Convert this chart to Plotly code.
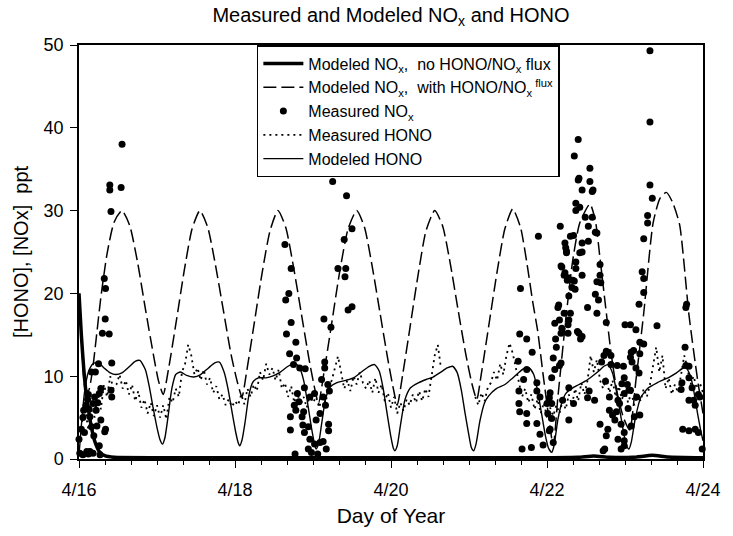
import plotly.graph_objects as go

# ---------------- data ----------------
# Modeled NOx, no HONO/NOx flux (thick line)
noflux_day = [16.0, 16.03, 16.06, 16.09, 16.12, 16.16, 16.2, 16.26, 16.33, 16.45, 17.0, 18.0, 19.0,
              20.0, 21.0, 22.0, 22.4, 22.6, 22.8, 23.1, 23.35, 23.55, 24.0]
noflux_val = [20, 15, 11, 8, 6, 3.8, 2.2, 0.9, 0.4, 0.2, 0.15, 0.15, 0.15,
              0.15, 0.15, 0.15, 0.2, 0.35, 0.2, 0.2, 0.45, 0.25, 0.15]

# Modeled NOx, with HONO/NOx flux (dashed)
flux_day = [16.00, 16.04, 16.08, 16.12, 16.17, 16.22, 16.28, 16.36, 16.45, 16.55, 16.65, 16.75, 16.85, 16.95,
            17.02, 17.08, 17.15, 17.25, 17.35, 17.45, 17.55, 17.65, 17.75, 17.85, 17.95,
            18.03, 18.09, 18.15, 18.25, 18.35, 18.45, 18.55, 18.65, 18.75, 18.85, 18.95,
            19.02, 19.07, 19.14, 19.24, 19.34, 19.45, 19.56, 19.66, 19.76, 19.86, 19.96,
            20.03, 20.08, 20.15, 20.25, 20.35, 20.45, 20.56, 20.66, 20.76, 20.86, 20.96,
            21.04, 21.10, 21.16, 21.26, 21.36, 21.46, 21.56, 21.66, 21.74, 21.82, 21.88, 21.95,
            22.02, 22.08, 22.14, 22.24, 22.33, 22.42, 22.55, 22.62, 22.68, 22.75, 22.82, 22.90, 22.98,
            23.06, 23.14, 23.24, 23.36, 23.45, 23.53, 23.61, 23.70, 23.82, 23.93, 24.00]
flux_val = [20, 13, 8.5, 8.2, 10.5, 14.5, 19.5, 24.8, 28.6, 30, 28.2, 23.8, 18.2, 12.8,
            9.4, 7.8, 11, 16.8, 22.8, 27.8, 30, 28, 23.4, 18, 12.6,
            9.3, 7.5, 10.6, 16.6, 22.6, 27.6, 30, 28, 23.2, 17.6, 12,
            8.6, 6.7, 10.4, 16.4, 22.5, 27.8, 30, 28, 23.2, 17.6, 12,
            8.5, 6.5, 10.2, 16.3, 22.4, 27.6, 30, 28.2, 23.6, 18, 12.6,
            9, 7.2, 10.4, 16.5, 22.6, 27.8, 30.2, 28, 23.8, 18.8, 15.5, 10.2,
            5.2, 1.6, 7.5, 16.8, 24, 28.5, 30.8, 28.8, 24.2, 18.5, 12.9, 8, 5,
            3.5, 9.5, 17.6, 28.5, 31.5, 32.2, 31, 28.3, 17.4, 9.6, 5.5]

# Modeled HONO (thin solid)
mhono_day = [16.00, 16.03, 16.07, 16.12, 16.18, 16.24, 16.32, 16.40, 16.47, 16.55, 16.65, 16.72, 16.78,
             16.85, 16.90, 16.95, 17.00, 17.04, 17.07, 17.10, 17.14, 17.19, 17.24, 17.30, 17.38, 17.47,
             17.56, 17.66, 17.74, 17.80, 17.86, 17.91, 17.96, 18.01, 18.04, 18.06, 18.09, 18.13, 18.18,
             18.23, 18.30, 18.40, 18.48, 18.58, 18.68, 18.76, 18.82, 18.88, 18.93, 18.98, 19.02, 19.04,
             19.07, 19.11, 19.16, 19.22, 19.30, 19.42, 19.52, 19.62, 19.72, 19.79, 19.85, 19.90, 19.95,
             20.00, 20.03, 20.05, 20.08, 20.12, 20.18, 20.25, 20.35, 20.45, 20.54, 20.64, 20.72, 20.79,
             20.85, 20.90, 20.95, 21.00, 21.03, 21.06, 21.09, 21.14, 21.20, 21.25, 21.35, 21.46, 21.55,
             21.62, 21.70, 21.77, 21.83, 21.88, 21.93, 21.98, 22.02, 22.06, 22.09, 22.14, 22.19, 22.24,
             22.35, 22.49, 22.58, 22.66, 22.73, 22.78, 22.84, 22.89, 22.94, 22.99, 23.02, 23.05, 23.08,
             23.13, 23.20, 23.30, 23.41, 23.57, 23.66, 23.73, 23.78, 23.84, 23.89, 23.93, 23.97, 24.00]
mhono_val = [0.5, 4, 8, 10.5, 11.5, 11.7, 11, 10.4, 10.2, 10.4, 11.2, 11.8, 11.9,
             10.8, 8.8, 6.2, 3.8, 2.3, 1.8, 2.5, 5, 8.5, 10.2, 10.5, 10.1, 9.9,
             10.2, 11, 11.6, 11.7, 10.5, 8.5, 5.8, 3.2, 2.0, 1.6, 2.3, 4.5, 7.8,
             9.3, 9.8, 9.8, 10, 10.5, 11.2, 11.5, 11.2, 9.5, 6.8, 3.8, 1.8, 1.2,
             1.8, 4.2, 7.2, 8.7, 9.2, 9.5, 9.8, 10.5, 11.2, 11.4, 10.6, 8.5, 5.5,
             2.6, 1.3, 1.0, 1.6, 4, 7.2, 8.6, 9.2, 9.6, 9.9, 10.5, 11, 11.2,
             10.4, 8.4, 5.5, 2.8, 1.4, 1.0, 1.8, 4.6, 6.8, 7.6, 8.5, 9.0, 9.7,
             10.3, 10.9, 11.0, 10.2, 8.2, 5.5, 2.8, 1.3, 0.8, 1.6, 4.8, 6.8, 7.9,
             8.7, 9.4, 10, 10.6, 11.2, 11.4, 10.4, 8.2, 5.5, 2.8, 1.6, 1.2, 2,
             4.8, 7.4, 8.6, 9.2, 9.9, 10.4, 10.9, 11.0, 10.0, 7.8, 5.5, 3.5, 2.2]

# Measured HONO (dotted); None = gap in record
hhono_day = [16.04, 16.08, 16.12, 16.16, 16.20, 16.24, 16.28, 16.32, 16.36, 16.40, 16.44,
             16.48, 16.52, 16.56, 16.60, 16.64, 16.68, 16.72, 16.76, 16.80, 16.84, 16.88, 16.92, 16.96, 17.00,
             17.04, 17.08, 17.12, 17.16, 17.20, 17.24, 17.28, 17.32, 17.36, 17.40, 17.44, 17.48,
             17.52, 17.56, 17.60, 17.64, 17.68, 17.72, 17.76, 17.80, 17.84, 17.88, 17.92, 17.96, 18.00,
             18.04, 18.08, 18.12, 18.16, 18.20, 18.24, 18.28, 18.32, 18.36, 18.40, 18.44, 18.48,
             18.52, 18.56, 18.60, 18.64, 18.68, 18.72, 18.76, 18.80, 18.84, 18.88, 18.92, 18.96, 19.00,
             19.04, 19.08, 19.12, 19.16, 19.20, 19.24, 19.28, 19.32, 19.36, 19.40, 19.44,
             19.48, 19.52, 19.56, 19.60, 19.64, 19.68, 19.72, 19.76,
             19.80, 19.84, 19.88, 19.92, 19.96, 20.00, 20.04, 20.08, 20.12, 20.16, 20.20,
             20.24, 20.28, 20.32, 20.36, 20.40, 20.44, 20.48,
             20.52, 20.56, 20.60, 20.64, 20.66,
             21.08, 21.12, 21.16, 21.20, 21.24, 21.28,
             21.32, 21.36, 21.40, 21.44, 21.48, 21.52, 21.56, 21.60,
             21.64, 21.68, 21.72, 21.76, 21.80, 21.84, 21.88, 21.92, 21.96, 22.00, 22.04, 22.08, 22.12, 22.16, 22.20,
             22.24, 22.28, 22.32, 22.36, 22.40, 22.44, 22.48,
             22.52, 22.56, 22.60, 22.64, 22.68,
             22.72, 22.76, 22.80, 22.84, 22.88, 22.92, 22.96, 23.00,
             23.04, 23.08, 23.12, 23.16, 23.20, 23.24, 23.28,
             23.32, 23.36, 23.40, 23.44, 23.48,
             23.52, 23.56, 23.60, 23.64, 23.68,
             23.72, 23.76, 23.80,
             23.84, 23.88, 23.92, 23.96, 24.00]
hhono_val = [4.5, 6, 3.5, 7, 5, 8, 6, 9, 7.5, 10, 8.5,
             9, 10.2, 8.5, 9.5, 7.8, 9, 7, 8.2, 6.2, 7.2, 5.5, 6.8, 5.2, 6.5,
             5, 6.5, 4.8, 7.5, 6.8, 8.5, 7.5, 10.5, 11.5, 13.8, 12.5, 10.2,
             11, 9.5, 10.8, 9, 9.8, 8, 8.8, 7.2, 7.8, 6.5, 7.2, 6.3, 7,
             6.5, 7.8, 6.6, 8.5, 7.5, 9, 8.2, 10.5, 9.5, 11.5, 10.2, 11,
             9.5, 10.8, 8.5, 9.2, 7.5, 8.8, 6.8, 8, 6.5, 7.5, 6.2, 7.8, 6.8,
             7.5, 6.2, 7.8, 6.8, 8.5, 9.5, 11, 12.4, 10.5, 8.5, 9.5,
             8.2, 10, 9, 10.5, 9.2, 8.5, 9.5, 8,
             9.8, 8, 9, 7, 8, 6.2, 7.5, 5.5, 6.8, 5.8, 7.2,
             6.5, 7.8, 6.8, 8.2, 7, 8.5, 7.5,
             10, 12.5, 13.8, 11, None,
             7.5, 6.5, 8, 7, 8.6, 9.2,
             10.5, 9.5, 11.5, 10.2, 12.5, 14, 12.8, 11,
             9, 7.5, 8.5, 6.8, 7.8, 6, 7.2, 5.5, 6.8, 5, 6.2, 5.2, 6.5, 5.5, 7,
             6, 7.8, 6.5, 8.5, 7, 9.2, 7.8,
             9.5, 12.5, 10.5, 12, 9.5,
             8.5, 9.8, 8, 9.5, 7.5, 8.8, 7.2, 8.2,
             6.8, 8, 6.5, 7.8, 7, 8.5, 7.5,
             9, 11.5, 13.5, 10.5, 12.5,
             8.5, 9.8, 7.8, 9, 8,
             10.5, 12.5, 11,
             9, 10, 8.5, 9.2, 8]

# Measured NOx (dots)
nox_day = [16.00, 16.01, 16.03, 16.05, 16.06, 16.07, 16.12, 16.14, 16.14, 16.16, 16.16, 16.18, 16.18,
           16.20, 16.21, 16.22, 16.25, 16.26, 16.26, 16.28, 16.28, 16.30, 16.324, 16.33, 16.34, 16.336,
           16.34, 16.387, 16.395, 16.395, 16.41, 16.41, 16.42, 16.42, 16.54, 16.552,
           16.10, 16.05, 16.12, 16.09, 16.11, 16.13, 16.24, 16.23, 16.19, 16.27,
           18.64, 18.72, 18.69, 18.65, 18.72, 18.66, 18.78, 18.70, 18.79, 18.75, 18.83, 18.90, 18.71, 18.71,
           18.89, 18.80, 18.82, 18.76, 18.78, 18.88, 18.86, 18.96, 19.02, 19.13, 19.16, 19.09, 19.04, 18.94,
           18.87, 18.89, 18.96, 19.02, 19.09, 19.17, 19.20, 19.20, 18.94, 18.98, 19.06, 18.77, 19.13, 19.15,
           19.15, 19.11, 19.19, 19.21, 19.14, 19.23, 19.252, 19.43, 19.50, 19.40, 19.32, 19.42, 19.41, 19.45,
           19.50,
           21.89, 21.66, 21.65, 21.74, 21.81, 21.63, 21.74, 21.70, 21.87, 21.64, 21.64, 21.65, 21.74, 21.87,
           21.91, 21.87, 21.91, 21.68, 21.80, 21.95, 21.74,
           22.04, 22.00, 22.04, 22.08, 22.08, 22.18, 22.10, 22.28, 22.20, 22.34, 22.28,
           22.17, 22.41, 22.45, 22.37, 22.42, 22.34, 22.24, 22.25, 22.45, 22.45, 22.19, 22.22, 22.26, 22.33,
           22.36, 22.28, 22.15, 22.22, 22.30, 22.16, 22.10, 22.27, 22.19, 22.18, 22.11, 22.27, 22.41, 22.45,
           22.35, 22.40, 22.55, 22.40, 22.55, 22.58, 22.59, 22.37, 22.49, 22.58, 22.53, 22.62, 22.64, 22.53,
           22.30, 22.23, 22.25, 22.42, 22.37, 22.68, 22.18, 22.37, 22.23, 22.45, 22.68, 22.27, 22.35, 22.64,
           22.69, 22.32, 22.62, 22.66, 22.14, 22.52, 22.64, 22.28, 22.76, 22.39, 22.43, 22.12, 22.76, 22.78,
           22.73, 22.82, 22.70, 22.82, 22.16, 22.06, 22.75, 22.54, 22.03, 22.52, 22.80, 22.61, 22.06, 22.80,
           22.01, 22.84, 22.06, 22.68, 22.78, 22.03, 22.76, 22.74, 22.72,
           23.32, 23.32, 23.32, 23.35, 23.29, 23.29, 23.24, 23.22, 23.24, 23.24, 23.18, 23.41, 23.00, 23.07,
           23.14, 23.19, 23.24, 23.11, 23.08, 23.19, 23.07, 23.09, 23.18, 23.14, 22.90, 22.98, 22.99, 22.96,
           23.03, 23.05, 23.07, 22.99, 23.15, 22.91, 22.93, 23.04, 22.89, 23.19, 23.12, 22.87, 22.95, 23.08,
           22.99, 22.99, 22.91, 22.95, 22.99,
           23.73, 23.78, 23.79, 23.77, 23.78, 23.82, 23.82, 23.86, 23.88, 23.94, 23.96, 23.90, 23.82, 23.72,
           23.74, 23.82, 23.90, 23.94, 23.99]
nox_val = [2.4, 0.7, 3.6, 5.0, 5.9, 3.2, 7.8, 0.9, 5.1, 10.5, 3.9, 6.7, 0.7,
           7.5, 10.5, 5.9, 11.5, 7.9, 1.6, 8.5, 4.7, 15.2, 21.8, 3.3, 3.6, 16.9,
           20.6, 15.1, 33.1, 32.5, 29.9, 8.3, 11.6, 7.5, 32.8, 38.0,
           0.9, 0.5, 0.6, 6.5, 7.2, 6.0, 6.8, 4.0, 2.8, 0.5,
           25.9, 23.0, 20.0, 19.2, 16.5, 15.1, 14.1, 12.7, 12.2, 11.4, 11.0, 10.9, 5.1, 3.5,
           8.6, 7.9, 6.9, 6.5, 5.9, 5.7, 5.1, 7.5, 7.9, 7.5, 6.5, 5.5, 4.7, 3.9,
           4.1, 3.2, 2.4, 1.8, 2.0, 1.2, 4.2, 3.4, 1.2, 0.8, 0.6, 0.6, 2.1, 11.7,
           11.0, 9.6, 9.0, 8.2, 16.9, 15.9, 33.5, 31.8, 27.8, 26.5, 23.0, 23.0, 22.0, 18.0,
           18.4,
           26.9, 20.6, 15.1, 14.5, 12.9, 11.8, 10.8, 9.6, 9.2, 8.2, 6.7, 5.7, 5.5, 8.2,
           7.5, 4.3, 3.0, 1.2, 1.4, 1.7, 4.3,
           8.0, 6.7, 3.6, 2.0, 12.2, 11.6, 10.8, 8.6, 7.1, 6.7, 4.7,
           28.1, 33.9, 32.5, 30.9, 30.4, 27.0, 25.5, 24.9, 26.1, 25.0, 23.2, 22.2, 21.6, 21.6,
           20.5, 19.7, 18.6, 17.6, 17.6, 16.8, 16.4, 16.2, 15.8, 15.2, 14.5, 15.2, 15.2, 14.8,
           36.6, 38.6, 35.1, 33.7, 33.5, 32.3, 32.5, 30.0, 29.2, 29.2, 28.1, 27.4, 27.3, 26.3,
           26.9, 26.1, 25.1, 24.9, 23.8, 23.5, 23.3, 23.0, 22.5, 22.2, 22.2, 21.9, 21.5, 21.4,
           21.3, 20.7, 19.9, 19.2, 18.3, 18.3, 17.6, 16.8, 16.5, 15.4, 14.5, 13.5, 13.0, 12.9,
           12.5, 12.5, 11.7, 11.4, 11.3, 9.8, 9.4, 8.2, 7.4, 7.4, 7.5, 7.1, 6.7, 5.9,
           5.5, 5.3, 4.9, 4.2, 3.6, 3.4, 2.8, 1.2, 1.0,
           49.3, 40.7, 33.1, 31.5, 29.4, 28.5, 26.6, 22.6, 21.8, 20.1, 18.7, 16.1, 16.2, 16.2,
           15.6, 14.1, 13.9, 13.1, 12.9, 12.7, 12.3, 11.7, 10.4, 11.0, 11.3, 11.2, 9.8, 9.1,
           9.0, 8.3, 8.3, 7.9, 7.5, 7.1, 6.7, 6.1, 5.7, 5.3, 5.1, 4.7, 4.2, 4.0,
           3.2, 2.2, 2.4, 1.2, 1.6,
           9.2, 18.3, 18.7, 13.5, 11.3, 11.2, 9.8, 8.6, 7.1, 7.8, 7.5, 6.5, 7.1, 8.4,
           3.6, 3.4, 3.6, 3.2, 1.2]

x_tickvals = [16, 18, 20, 22, 24]
x_ticktext = ["4/16", "4/18", "4/20", "4/22", "4/24"]
y_tickvals = [0, 10, 20, 30, 40, 50]

FONT = "Liberation Sans, Arial, Helvetica, sans-serif"

fig = go.Figure()

fig.add_trace(go.Scatter(
    x=hhono_day, y=hhono_val, mode="lines", connectgaps=False,
    line=dict(color="black", width=1.8, dash="2px,4px"),
    name="Measured HONO", legendrank=4))
fig.add_trace(go.Scatter(
    x=mhono_day, y=mhono_val, mode="lines",
    line=dict(color="black", width=1.4, shape="spline", smoothing=0.6),
    name="Modeled HONO", legendrank=5))
fig.add_trace(go.Scatter(
    x=flux_day, y=flux_val, mode="lines",
    line=dict(color="black", width=1.5, dash="13px,5px", shape="spline", smoothing=0.6),
    name="Modeled NO<sub>x</sub>,  with HONO/NO<sub>x</sub><sup> flux</sup>", legendrank=2))
fig.add_trace(go.Scatter(
    x=noflux_day, y=noflux_val, mode="lines",
    line=dict(color="black", width=3.5, shape="spline", smoothing=0.5),
    name="Modeled NO<sub>x</sub>,  no HONO/NO<sub>x</sub> flux", legendrank=1))
fig.add_trace(go.Scatter(
    x=nox_day, y=nox_val, mode="markers", cliponaxis=False,
    marker=dict(color="black", size=7, line=dict(width=0)),
    name="Measured NO<sub>x</sub>", legendrank=3))

fig.update_layout(
    width=733, height=536,
    margin=dict(l=79, r=12, t=45, b=63),
    paper_bgcolor="white", plot_bgcolor="white",
    font=dict(family=FONT, color="black", size=16),
    title=dict(text="Measured and Modeled NO<sub>x</sub> and HONO",
               xref="paper", x=0.5, xanchor="center",
               yref="container", y=1 - 15 / 536, yanchor="middle",
               font=dict(size=20, family=FONT, color="black")),
    showlegend=True,
    legend=dict(x=(262 - 79) / 642, y=1.0, xanchor="left", yanchor="top",
                bgcolor="white", bordercolor="black", borderwidth=1.5,
                font=dict(size=16, family=FONT, color="black"),
                tracegroupgap=0, itemwidth=40),
    xaxis=dict(range=[16, 24], tickvals=x_tickvals, ticktext=x_ticktext,
               ticks="outside", ticklen=7, tickwidth=1, tickcolor="black",
               showline=True, linecolor="black", linewidth=1.5, mirror=True,
               showgrid=False, zeroline=False,
               tickfont=dict(size=18, family=FONT),
               ticklabelstandoff=7, ticklabeloverflow="allow",
               minor=dict(dtick=1 / 3, tick0=16, ticks="outside", ticklen=4,
                          tickcolor="black", tickwidth=1, showgrid=False),
               title=dict(text="Day of Year", font=dict(size=21, family=FONT), standoff=9)),
    yaxis=dict(range=[0, 50], tickvals=y_tickvals,
               ticks="outside", ticklen=7, tickwidth=1, tickcolor="black",
               showline=True, linecolor="black", linewidth=1.5, mirror=True,
               showgrid=False, zeroline=False,
               tickfont=dict(size=18, family=FONT),
               ticklabelstandoff=3,
               title=dict(text="[HONO], [NOx]  ppt", font=dict(size=20, family=FONT), standoff=10)),
)

fig.write_html("out.html")
